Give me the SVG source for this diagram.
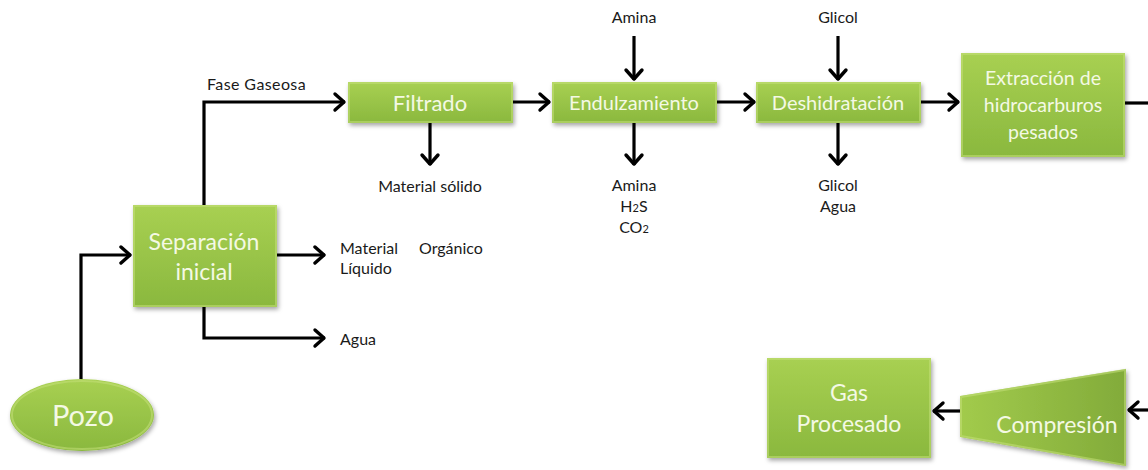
<svg xmlns="http://www.w3.org/2000/svg" width="1148" height="470" viewBox="0 0 1148 470">
<style>
.node{fill:url(#g);filter:url(#sh)}
.bev{fill:none;stroke:#c4e07a;stroke-width:2;stroke-opacity:.55}
.nt{font-family:Lato,"Open Sans",sans-serif;fill:#f4f9e4;text-anchor:middle}
.lb{font-family:Lato,"Open Sans",sans-serif;font-size:16px;fill:#1a1a1a}
.c{text-anchor:middle}
.ar{fill:none;stroke:#000;stroke-width:3.2;marker-end:url(#ah)}
.ln{fill:none;stroke:#000;stroke-width:3.2}
</style>
<defs>
<linearGradient id="g" x1="0" y1="0" x2="0" y2="1">
<stop offset="0" stop-color="#a8d052"/>
<stop offset="1" stop-color="#8ab83e"/>
</linearGradient>
<linearGradient id="gc" x1="0" y1="0" x2="1" y2="0">
<stop offset="0" stop-color="#a2cb4c"/>
<stop offset="1" stop-color="#82ab3a"/>
</linearGradient>
<filter id="sh" x="-20%" y="-20%" width="140%" height="150%">
<feDropShadow dx="1.5" dy="2.5" stdDeviation="2" flood-color="#000" flood-opacity="0.35"/>
</filter>
<marker id="ah" markerUnits="userSpaceOnUse" markerWidth="24" markerHeight="24" viewBox="-14 -12 18 24" refX="0" refY="0" orient="auto">
<path d="M-10,-8 L-1,0 L-10,8" fill="none" stroke="#000" stroke-width="3.4" stroke-linecap="round" stroke-linejoin="round"/>
</marker>
</defs>

<g id="connectors">
<path class="ar" d="M81,379 V255 H131"/>
<path class="ar" d="M204,205 V102 H345"/>
<path class="ar" d="M277,255 H325"/>
<path class="ar" d="M204,307 V338 H325"/>
<path class="ar" d="M430,123 V165"/>
<path class="ar" d="M513,102 H550"/>
<path class="ar" d="M634,36 V80"/>
<path class="ar" d="M634,123 V165"/>
<path class="ar" d="M717,102 H755"/>
<path class="ar" d="M838,36 V80"/>
<path class="ar" d="M838,123 V165"/>
<path class="ar" d="M921,102 H959"/>
<path class="ln" d="M1125,103 H1148"/>
<path class="ar" d="M1150,410 H1128"/>
<path class="ar" d="M960,411 H933"/>
</g>

<g id="pozo">
<ellipse class="node" cx="82" cy="415" rx="72" ry="36"/>
<ellipse class="bev" cx="82" cy="415" rx="70" ry="34"/>
<text class="nt" x="83" y="426" font-size="29">Pozo</text>
</g>

<g id="separacion">
<rect class="node" x="133" y="205" width="144" height="102"/>
<rect class="bev" x="134" y="206" width="142" height="100"/>
<text class="nt" x="204" y="250" font-size="23">Separación</text>
<text class="nt" x="204" y="280" font-size="23">inicial</text>
</g>

<g id="filtrado">
<rect class="node" x="348" y="82" width="165" height="41"/>
<rect class="bev" x="349" y="83" width="163" height="39"/>
<text class="nt" x="430" y="111" font-size="22">Filtrado</text>
</g>

<g id="endulzamiento">
<rect class="node" x="552" y="82" width="165" height="41"/>
<rect class="bev" x="553" y="83" width="163" height="39"/>
<text class="nt" x="634" y="110" font-size="20">Endulzamiento</text>
</g>

<g id="deshidratacion">
<rect class="node" x="756" y="82" width="165" height="41"/>
<rect class="bev" x="757" y="83" width="163" height="39"/>
<text class="nt" x="838" y="110" font-size="20">Deshidratación</text>
</g>

<g id="extraccion">
<rect class="node" x="961" y="53" width="164" height="104"/>
<rect class="bev" x="962" y="54" width="162" height="102"/>
<text class="nt" x="1043" y="85" font-size="19.5">Extracción de</text>
<text class="nt" x="1043" y="112" font-size="19.5">hidrocarburos</text>
<text class="nt" x="1043" y="139" font-size="19.5">pesados</text>
</g>

<g id="gas-procesado">
<rect class="node" x="767" y="358" width="164" height="100"/>
<rect class="bev" x="768" y="359" width="162" height="98"/>
<text class="nt" x="849" y="401" font-size="23">Gas</text>
<text class="nt" x="849" y="432" font-size="23">Procesado</text>
</g>

<g id="compresion">
<polygon points="960,396 1126,369 1126,466 960,437" fill="url(#gc)" filter="url(#sh)"/>
<polygon points="961,397 1125,370 1125,465 961,436" class="bev"/>
<text class="nt" x="1057" y="433" font-size="23">Compresión</text>
</g>

<g id="labels">
<text class="lb" x="207" y="90" font-size="15" letter-spacing="0.4">Fase Gaseosa</text>
<text class="lb c" x="430" y="192">Material sólido</text>
<text class="lb c" x="634" y="23">Amina</text>
<text class="lb c" x="634" y="191">Amina</text>
<text class="lb c" x="634" y="212">H<tspan font-size="11">2</tspan>S</text>
<text class="lb c" x="634" y="233">CO<tspan font-size="11">2</tspan></text>
<text class="lb c" x="838" y="23">Glicol</text>
<text class="lb c" x="838" y="191">Glicol</text>
<text class="lb c" x="838" y="212">Agua</text>
<text class="lb" x="340" y="254">Material</text>
<text class="lb" x="419" y="254">Orgánico</text>
<text class="lb" x="340" y="274">Líquido</text>
<text class="lb" x="340" y="345">Agua</text>
</g>
</svg>
